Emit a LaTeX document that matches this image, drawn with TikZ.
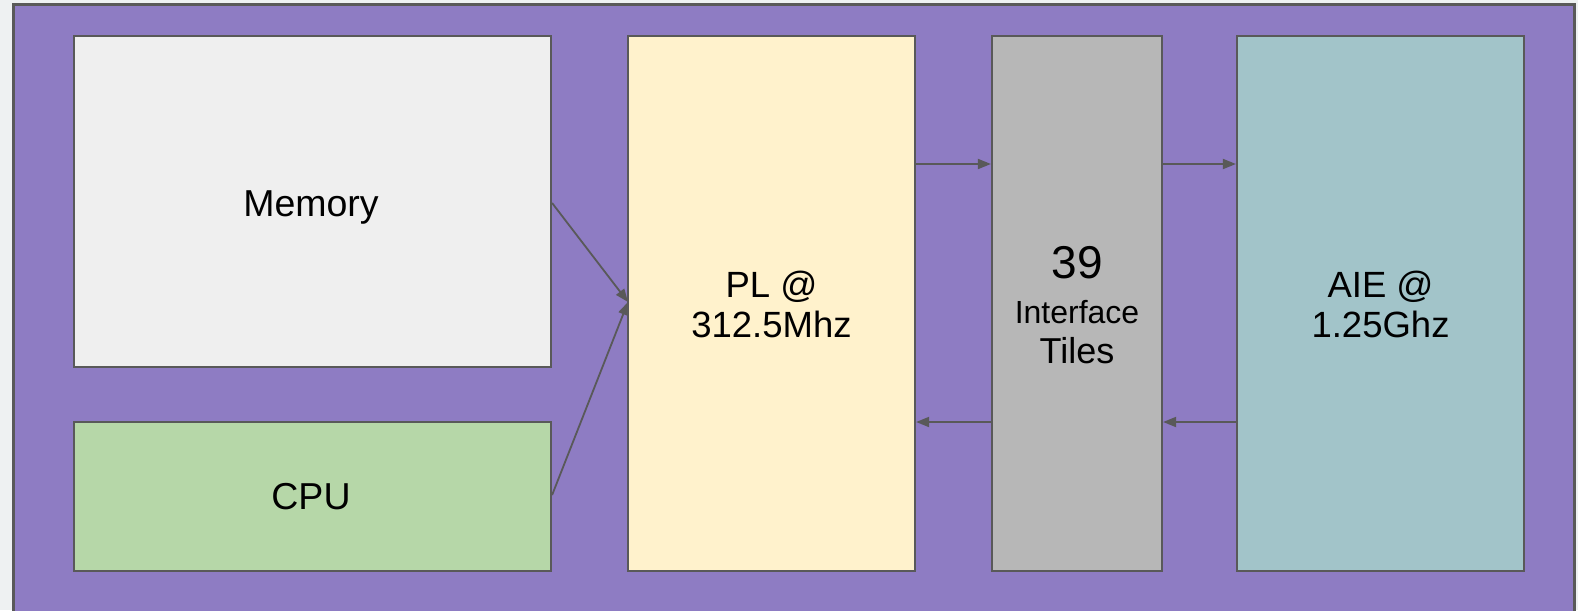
\documentclass[tikz,border=0pt]{standalone}
\usepackage{fontspec}
\setmainfont{Liberation Sans}
\usetikzlibrary{arrows.meta}
\definecolor{bgout}{HTML}{EEF1F2}
\definecolor{purp}{HTML}{8E7CC3}
\definecolor{edge}{HTML}{595959}
\definecolor{memc}{HTML}{EFEFEF}
\definecolor{cpuc}{HTML}{B6D7A8}
\definecolor{plc}{HTML}{FFF2CC}
\definecolor{ifc}{HTML}{B7B7B7}
\definecolor{aiec}{HTML}{A2C4C9}
\tikzset{
  blk/.style={draw=edge, line width=2.2pt, rectangle, inner sep=0pt},
  conn/.style={draw=edge, line width=1.8pt, -{Triangle[length=13pt,width=10pt]}},
  lbl/.style={anchor=base, inner sep=0pt, font=\fontsize{37.5}{40}\selectfont},
  lblm/.style={anchor=base, inner sep=0pt, font=\fontsize{36.5}{40}\selectfont}
}
\begin{document}
\begin{tikzpicture}[x=1pt,y=-1pt]
\useasboundingbox (0,0) rectangle (1578,610);
\fill[bgout] (0,0) rectangle (1578,610);
\begin{scope}
\clip (0,0) rectangle (1578,610);
\filldraw[fill=purp, draw=edge, line width=3pt] (13,5) rectangle (1574,625);
\end{scope}
\node[blk, fill=memc, minimum width=477pt, minimum height=331pt] (mem) at (312.5,201.5) {};
\node[blk, fill=cpuc, minimum width=477pt, minimum height=149pt] (cpu) at (312.5,496.5) {};
\node[blk, fill=plc, minimum width=287pt, minimum height=535pt] (pl) at (771.5,303.5) {};
\node[blk, fill=ifc, minimum width=170pt, minimum height=535pt] (ifc) at (1077,303.5) {};
\node[blk, fill=aiec, minimum width=287pt, minimum height=535pt] (aie) at (1380.5,303.5) {};
\node[lbl] (tmem) at (311,216) {Memory};
\node[lbl] (tcpu) at (311,509) {CPU};
\node[lblm] (tpl1) at (771.5,297) {PL @};
\node[lblm] (tpl2) at (771.5,337) {312.5Mhz};
\node[lblm] (taie1) at (1380.5,297) {AIE @};
\node[lblm] (taie2) at (1380.5,337) {1.25Ghz};
\node[lbl, font=\fontsize{46}{46}\selectfont] (n39) at (1077,278) {39};
\node[lbl, font=\fontsize{32}{34}\selectfont] (nif) at (1077,323) {Interface};
\node[lbl, font=\fontsize{36}{40}\selectfont] (ntl) at (1077,363) {Tiles};
\coordinate (plin) at (628,302);
\draw[conn] (mem.east |- 0,203) -- (plin);
\draw[conn] (cpu.east |- 0,495) -- (plin);
\draw[conn] (pl.east |- 0,164) -- (ifc.west |- 0,164);
\draw[conn] (ifc.east |- 0,164) -- (aie.west |- 0,164);
\draw[conn] (aie.west |- 0,422) -- (ifc.east |- 0,422);
\draw[conn] (ifc.west |- 0,422) -- (pl.east |- 0,422);
\end{tikzpicture}
\end{document}
